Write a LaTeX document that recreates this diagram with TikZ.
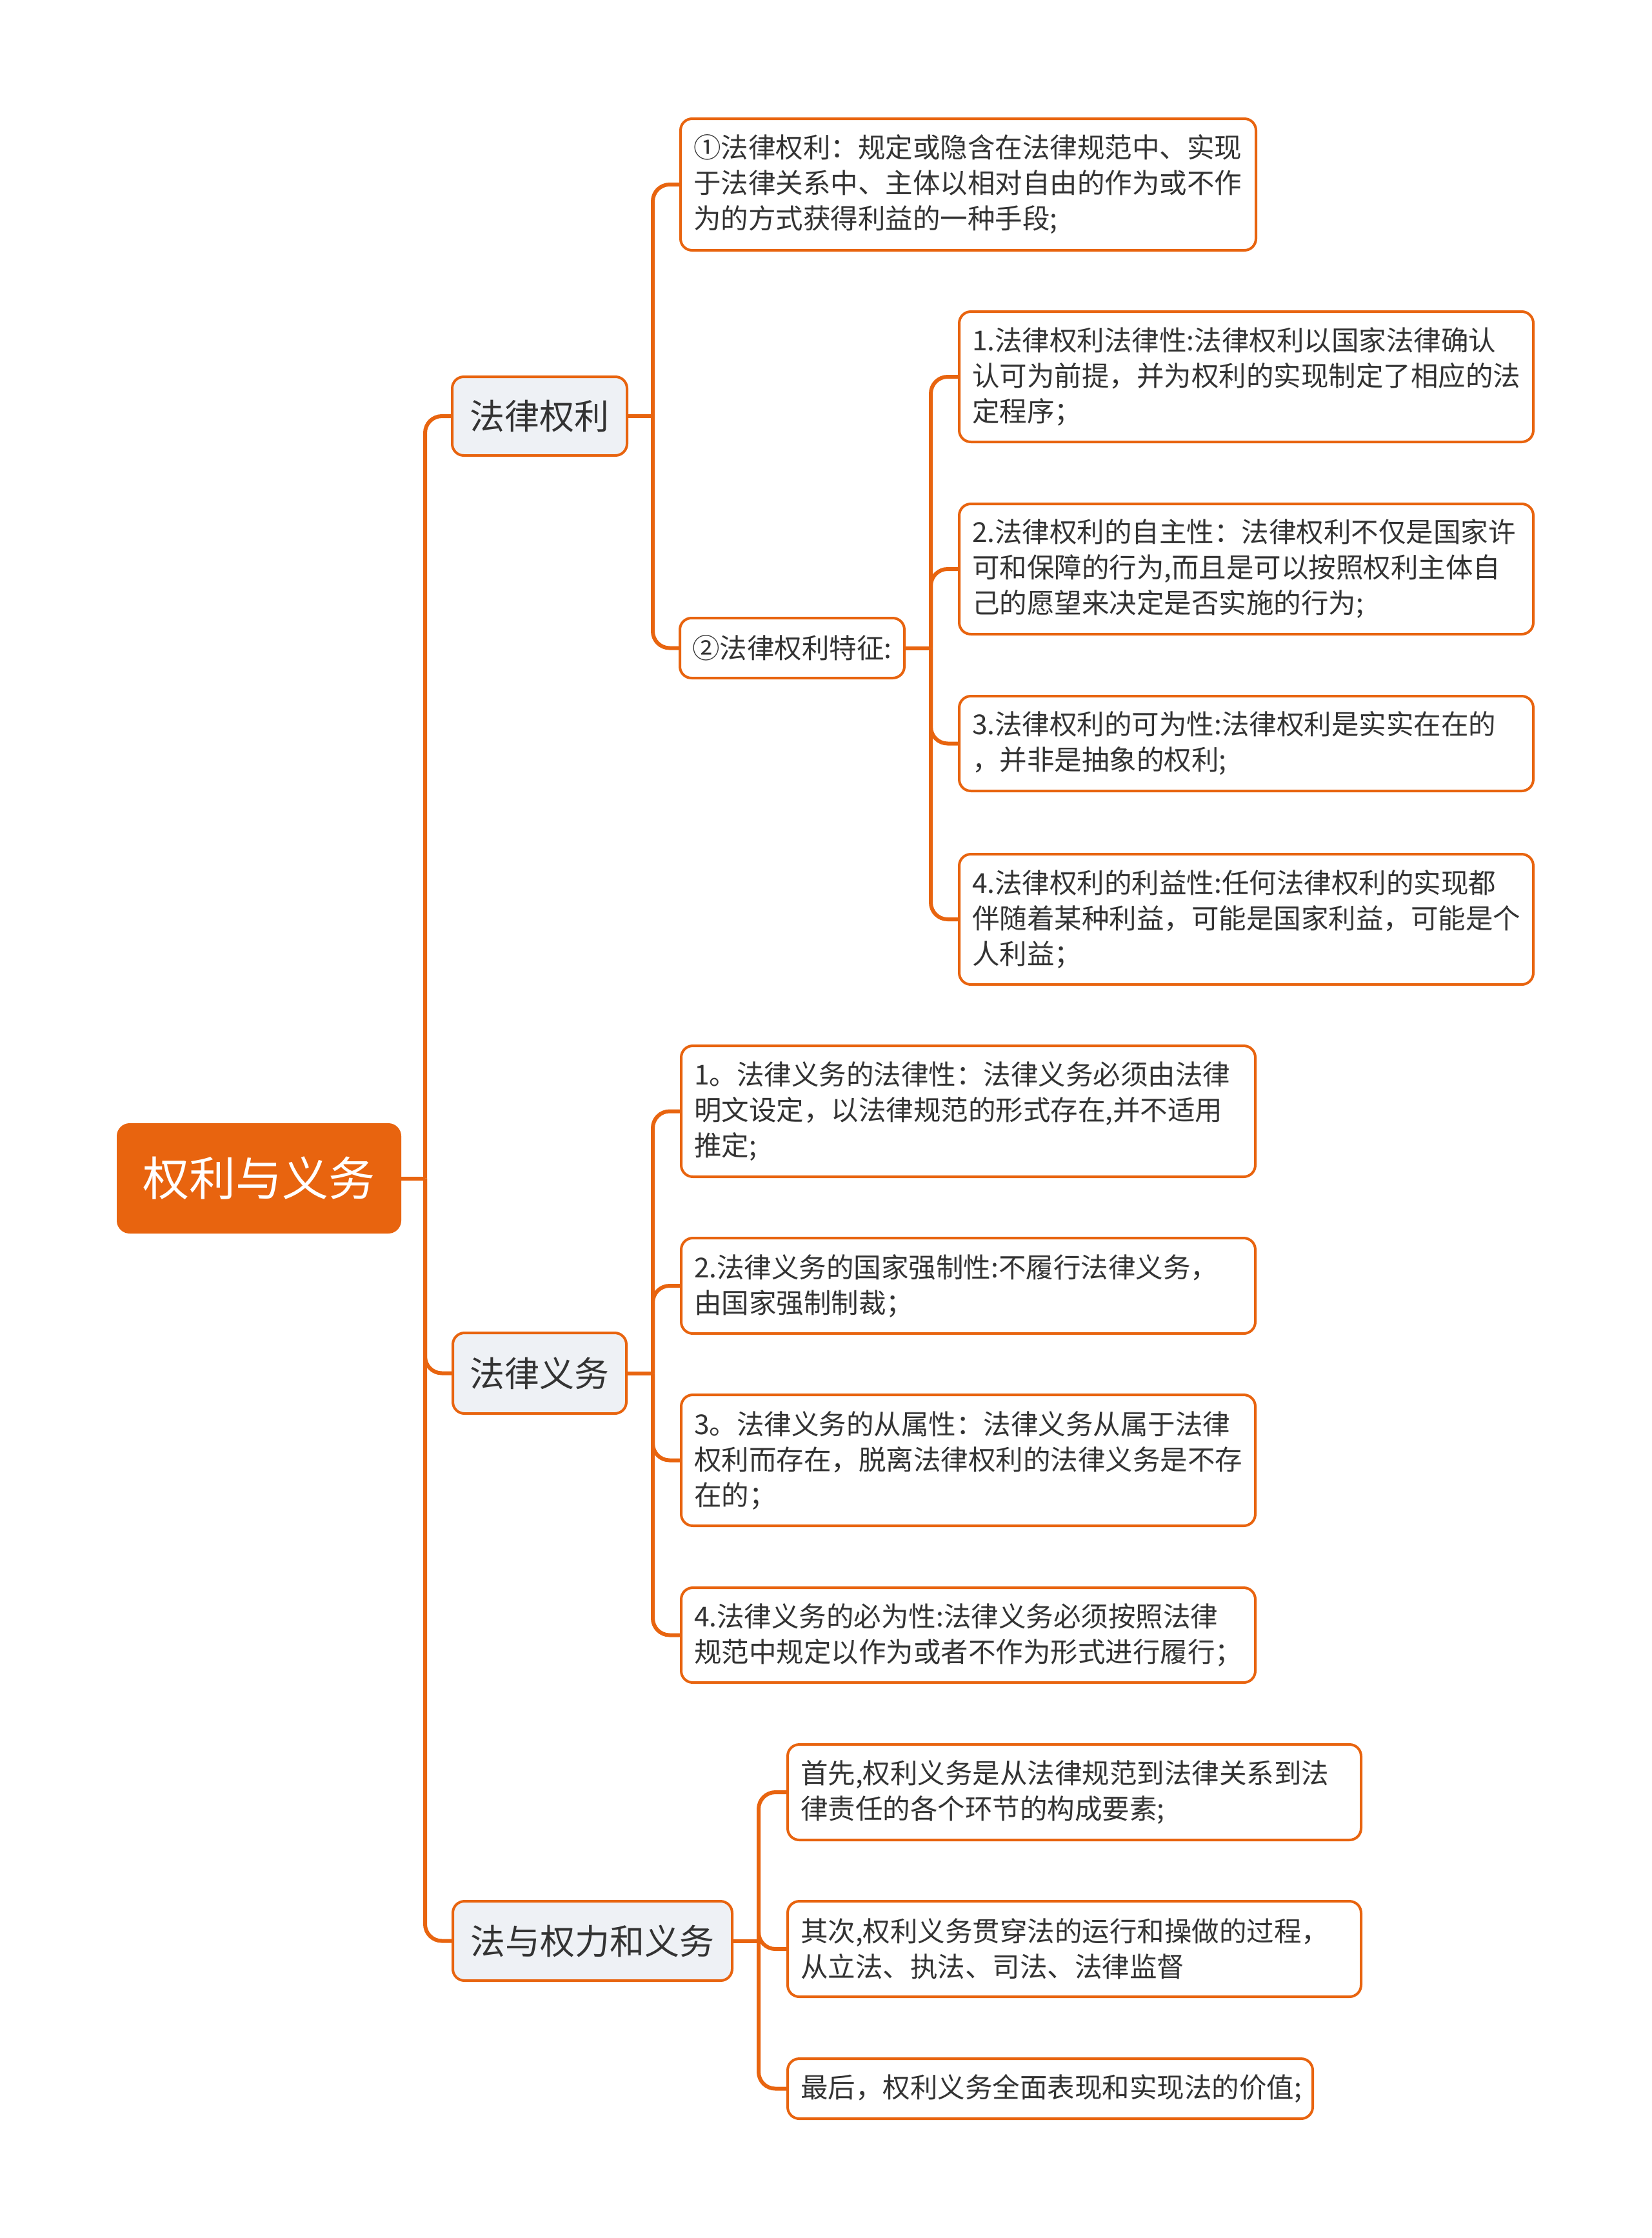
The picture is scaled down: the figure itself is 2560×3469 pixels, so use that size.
\documentclass[tikz,border=0pt]{standalone}
\usepackage{fontspec}
\setmainfont{Noto Sans CJK SC}
\definecolor{orng}{HTML}{E8640F}
\definecolor{subfill}{HTML}{EEF1F5}
\definecolor{txt}{HTML}{333333}
\tikzset{
  conn/.style={draw=orng, line width=6, rounded corners=26},
  topic/.style={rectangle, rounded corners=20, fill=orng, text=white,
    font=\fontsize{72}{86}\selectfont, minimum width=441, minimum height=171, inner sep=0},
  sub/.style={rectangle, rounded corners=18, draw=orng, line width=4, fill=subfill,
    text=txt, font=\fontsize{54}{66}\selectfont, inner sep=0},
  leaf/.style={rectangle, rounded corners=18, draw=orng, line width=4, fill=white,
    text=txt, font=\fontsize{42.5}{55}\selectfont, inner xsep=20, inner ysep=0,
    align=left, anchor=west},
  midleaf/.style={rectangle, rounded corners=18, draw=orng, line width=4, fill=white,
    text=txt, font=\fontsize{42.5}{55}\selectfont, inner sep=0}
}
\begin{document}
\begin{tikzpicture}[x=1pt,y=-1pt]
\fill[white] (0,0) rectangle (2560,3469);
\useasboundingbox (0,0) rectangle (2560,3469);

% root
\node[topic] (root) at (401.5,1826.5) {权利与义务};

% level 1
\node[sub, minimum width=271, minimum height=122] (A) at (836.5,645) {法律权利};
\node[sub, minimum width=269, minimum height=125] (B) at (836.5,2128.5) {法律义务};
\node[sub, minimum width=433, minimum height=123] (C) at (918.5,3008.5) {法与权力和义务};

% group A
\node[leaf, text width=852, minimum height=204] (a1) at (1053,286) {①法律权利：规定或隐含在法律规范中、实现\\于法律关系中、主体以相对自由的作为或不作\\为的方式获得利益的一种手段;};
\node[midleaf, minimum width=348, minimum height=93] (a2) at (1228,1004.5) {②法律权利特征:};

\node[leaf, text width=850, minimum height=202] (a21) at (1485,584) {1.法律权利法律性:法律权利以国家法律确认\\认可为前提，并为权利的实现制定了相应的法\\定程序；};
\node[leaf, text width=850, minimum height=202] (a22) at (1485,882) {2.法律权利的自主性：法律权利不仅是国家许\\可和保障的行为,而且是可以按照权利主体自\\己的愿望来决定是否实施的行为;};
\node[leaf, text width=850, minimum height=147] (a23) at (1485,1152.5) {3.法律权利的可为性:法律权利是实实在在的\\，并非是抽象的权利;};
\node[leaf, text width=850, minimum height=202] (a24) at (1485,1425) {4.法律权利的利益性:任何法律权利的实现都\\伴随着某种利益，可能是国家利益，可能是个\\人利益；};

% group B
\node[leaf, text width=850, minimum height=203] (b1) at (1054,1722.5) {1。法律义务的法律性：法律义务必须由法律\\明文设定，以法律规范的形式存在,并不适用\\推定;};
\node[leaf, text width=850, minimum height=148] (b2) at (1054,1993) {2.法律义务的国家强制性:不履行法律义务，\\由国家强制制裁；};
\node[leaf, text width=850, minimum height=203] (b3) at (1054,2263.5) {3。法律义务的从属性：法律义务从属于法律\\权利而存在，脱离法律权利的法律义务是不存\\在的；};
\node[leaf, text width=850, minimum height=147] (b4) at (1054,2534.5) {4.法律义务的必为性:法律义务必须按照法律\\规范中规定以作为或者不作为形式进行履行；};

% group C
\node[leaf, text width=849, minimum height=148] (c1) at (1219,2778) {首先,权利义务是从法律规范到法律关系到法\\律责任的各个环节的构成要素;};
\node[leaf, text width=849, minimum height=148] (c2) at (1219,3021) {其次,权利义务贯穿法的运行和操做的过程，\\从立法、执法、司法、法律监督};
\node[leaf, text width=774, minimum height=93] (c3) at (1219,3237.5) {最后，权利义务全面表现和实现法的价值;};

% connectors
\coordinate (j0) at (659,1826.5);
\draw[conn] (root.east) -- (j0);
\draw[conn] (j0) |- (A.west);
\draw[conn] (j0) |- (B.west);
\draw[conn] (j0) |- (C.west);

\coordinate (ja) at (1012,645);
\draw[conn] (A.east) -- (ja);
\draw[conn] (ja) |- (a1.west);
\draw[conn] (ja) |- (a2.west);

\coordinate (ja2) at (1443,1004.5);
\draw[conn] (a2.east) -- (ja2);
\draw[conn] (ja2) |- (a21.west);
\draw[conn] (ja2) |- (a22.west);
\draw[conn] (ja2) |- (a23.west);
\draw[conn] (ja2) |- (a24.west);

\coordinate (jb) at (1012,2128.5);
\draw[conn] (B.east) -- (jb);
\draw[conn] (jb) |- (b1.west);
\draw[conn] (jb) |- (b2.west);
\draw[conn] (jb) |- (b3.west);
\draw[conn] (jb) |- (b4.west);

\coordinate (jc) at (1176,3008.5);
\draw[conn] (C.east) -- (jc);
\draw[conn] (jc) |- (c1.west);
\draw[conn] (jc) |- (c2.west);
\draw[conn] (jc) |- (c3.west);
\end{tikzpicture}
\end{document}
